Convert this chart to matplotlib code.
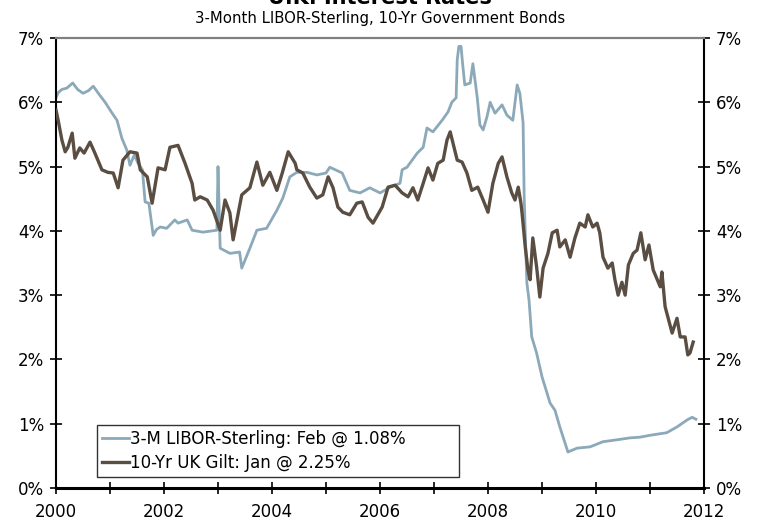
import matplotlib
matplotlib.use("Agg")
import matplotlib.pyplot as plt
from matplotlib.ticker import FuncFormatter

# 3-Month LIBOR-Sterling (decimal year, percent)
libor_t = [2000.00, 2000.04, 2000.11, 2000.20, 2000.31, 2000.40, 2000.50, 2000.60, 2000.69, 2000.81,
           2000.91, 2001.04, 2001.13, 2001.22, 2001.31, 2001.37, 2001.45, 2001.52, 2001.60, 2001.65,
           2001.72, 2001.80, 2001.86, 2001.93, 2002.05, 2002.20, 2002.26, 2002.43, 2002.52, 2002.72,
           2002.98, 2003.00, 2003.04, 2003.22, 2003.40, 2003.44, 2003.60, 2003.72, 2003.90, 2004.09,
           2004.20, 2004.33, 2004.46, 2004.65, 2004.83, 2005.00, 2005.07, 2005.30, 2005.44, 2005.63,
           2005.81, 2006.00, 2006.19, 2006.37, 2006.41, 2006.50, 2006.69, 2006.80, 2006.87, 2006.98,
           2007.15, 2007.26, 2007.33, 2007.41, 2007.43, 2007.46, 2007.50, 2007.53, 2007.57, 2007.67,
           2007.72, 2007.80, 2007.85, 2007.91, 2007.98, 2008.04, 2008.13, 2008.26, 2008.35, 2008.46,
           2008.54, 2008.59, 2008.65, 2008.67, 2008.69, 2008.72, 2008.76, 2008.81, 2008.90, 2009.00,
           2009.15, 2009.24, 2009.33, 2009.48, 2009.65, 2009.89, 2010.13, 2010.39, 2010.63, 2010.81,
           2011.00, 2011.31, 2011.50, 2011.69, 2011.78, 2011.85]
libor_v = [6.07, 6.15, 6.20, 6.22, 6.30, 6.20, 6.14, 6.18, 6.25, 6.11,
           6.00, 5.83, 5.72, 5.44, 5.26, 5.02, 5.18, 5.05, 4.95, 4.45,
           4.43, 3.93, 4.02, 4.06, 4.04, 4.17, 4.12, 4.17, 4.01, 3.98,
           4.01, 5.00, 3.73, 3.65, 3.67, 3.42, 3.75, 4.01, 4.04, 4.32,
           4.51, 4.84, 4.91, 4.91, 4.87, 4.90, 4.99, 4.90, 4.63, 4.59,
           4.67, 4.59, 4.68, 4.74, 4.95, 4.99, 5.21, 5.30, 5.60, 5.54,
           5.72, 5.85, 6.00, 6.07, 6.66, 6.87, 6.87, 6.60, 6.27, 6.30,
           6.60, 6.08, 5.65, 5.57, 5.77, 6.00, 5.83, 5.96, 5.80, 5.72,
           6.27, 6.14, 5.68, 4.53, 3.97, 3.19, 2.92, 2.35, 2.10, 1.73,
           1.32, 1.21, 0.95, 0.56, 0.62, 0.64, 0.72, 0.75, 0.78, 0.79,
           0.82, 0.86, 0.95, 1.06, 1.10, 1.07]

# 10-Yr UK Gilt (decimal year, percent)
gilt_t = [2000.00, 2000.04, 2000.11, 2000.17, 2000.22, 2000.30, 2000.35, 2000.44, 2000.52, 2000.63,
          2000.72, 2000.85, 2000.96, 2001.06, 2001.15, 2001.24, 2001.37, 2001.50, 2001.56, 2001.69,
          2001.78, 2001.89, 2002.02, 2002.11, 2002.26, 2002.39, 2002.52, 2002.57, 2002.67, 2002.80,
          2002.91, 2003.04, 2003.13, 2003.22, 2003.28, 2003.35, 2003.44, 2003.59, 2003.72, 2003.83,
          2003.96, 2004.09, 2004.19, 2004.30, 2004.43, 2004.46, 2004.57, 2004.70, 2004.83, 2004.94,
          2005.04, 2005.13, 2005.22, 2005.31, 2005.44, 2005.57, 2005.67, 2005.78, 2005.87, 2006.04,
          2006.15, 2006.28, 2006.41, 2006.52, 2006.61, 2006.70, 2006.80, 2006.89, 2006.98, 2007.07,
          2007.17, 2007.24, 2007.30, 2007.35, 2007.43, 2007.52, 2007.61, 2007.70, 2007.81, 2007.91,
          2008.00, 2008.09, 2008.19, 2008.26, 2008.35, 2008.44, 2008.50, 2008.56, 2008.61, 2008.63,
          2008.69, 2008.74, 2008.78, 2008.83, 2008.90, 2008.96, 2009.02, 2009.11, 2009.19, 2009.28,
          2009.33, 2009.43, 2009.52, 2009.61, 2009.70, 2009.80, 2009.85, 2009.94, 2010.02, 2010.07,
          2010.13, 2010.22, 2010.30, 2010.35, 2010.41, 2010.48, 2010.54, 2010.60, 2010.69, 2010.76,
          2010.83, 2010.91, 2010.98, 2011.06, 2011.19, 2011.22, 2011.28, 2011.33, 2011.41, 2011.50,
          2011.56, 2011.65, 2011.70, 2011.74, 2011.80]
gilt_v = [5.88, 5.72, 5.41, 5.23, 5.30, 5.52, 5.13, 5.29, 5.21, 5.38,
          5.21, 4.95, 4.91, 4.90, 4.67, 5.10, 5.23, 5.21, 4.95, 4.84,
          4.43, 4.98, 4.95, 5.30, 5.33, 5.05, 4.74, 4.48, 4.53, 4.48,
          4.32, 4.01, 4.48, 4.28, 3.86, 4.17, 4.56, 4.67, 5.07, 4.71,
          4.91, 4.63, 4.90, 5.23, 5.05, 4.95, 4.90, 4.68, 4.51, 4.56,
          4.84, 4.67, 4.37, 4.29, 4.25, 4.43, 4.45, 4.21, 4.12, 4.37,
          4.68, 4.71, 4.59, 4.53, 4.67, 4.48, 4.74, 4.98, 4.79, 5.05,
          5.10, 5.41, 5.54, 5.37, 5.10, 5.07, 4.90, 4.63, 4.68, 4.48,
          4.29, 4.74, 5.05, 5.15, 4.84, 4.59, 4.48, 4.68, 4.43, 4.28,
          3.75, 3.39, 3.24, 3.89, 3.44, 2.97, 3.42, 3.65, 3.97, 4.01,
          3.75, 3.86, 3.59, 3.89, 4.12, 4.06, 4.25, 4.06, 4.12, 3.97,
          3.59, 3.42, 3.50, 3.24, 3.00, 3.20, 3.00, 3.47, 3.65, 3.70,
          3.97, 3.55, 3.78, 3.39, 3.13, 3.36, 2.82, 2.66, 2.41, 2.64,
          2.35, 2.35, 2.07, 2.10, 2.27]

series_labels = ["3-M LIBOR-Sterling: Feb @ 1.08%", "10-Yr UK Gilt: Jan @ 2.25%"]
x_ticks = list(range(2000, 2013))
y_ticks = list(range(0, 8))

plt.rcParams['font.family'] = ['DejaVu Sans']

fig = plt.figure(figsize=(7.6, 5.21), dpi=100)
ax = fig.add_axes([56/760, 1-488/521, (704-56)/760, (488-38)/521])

ax.plot(libor_t, libor_v, color="#8CA9B9", lw=2.0, label=series_labels[0], zorder=2)
ax.plot(gilt_t, gilt_v, color="#5A4D42", lw=2.4, label=series_labels[1], zorder=3)

ax.set_xlim(2000, 2012)
ax.set_ylim(0, 7)
ax.set_xticks(x_ticks)
ax.set_xticklabels([str(y) if y % 2 == 0 else "" for y in x_ticks])
ax.set_yticks(y_ticks)
fmt = FuncFormatter(lambda v, p: f"{int(v)}%")
ax.yaxis.set_major_formatter(fmt)
ax.tick_params(axis='both', direction='inout', length=9, width=1.2, labelsize=12,
               colors='black')
ax.tick_params(axis='y', labelright=True, right=True, pad=4)
ax.tick_params(axis='x', pad=6)

for side in ['left', 'right']:
    ax.spines[side].set_color('black')
    ax.spines[side].set_linewidth(1.5)
ax.spines['bottom'].set_color('black')
ax.spines['bottom'].set_linewidth(2.2)
ax.spines['top'].set_color('#808080')
ax.spines['top'].set_linewidth(1.6)

leg = ax.legend(loc='lower left', bbox_to_anchor=((97-56)/648, (488-477)/450, (459-97)/648, (477-420)/450),
                mode='expand', fontsize=12, frameon=True, fancybox=False, handlelength=1.6,
                handletextpad=0.1, borderpad=0.3, labelspacing=0.35, borderaxespad=0)
leg.get_frame().set_edgecolor('black')
leg.get_frame().set_linewidth(1.0)

fig.text(0.5, 1-18/521, "3-Month LIBOR-Sterling, 10-Yr Government Bonds", ha='center', va='center', fontsize=10.7)
fig.text(0.5, 1-4/521, "U.K. Interest Rates", ha='center', va='baseline', fontsize=15, fontweight='bold')

fig.savefig("out.png", dpi=100)
